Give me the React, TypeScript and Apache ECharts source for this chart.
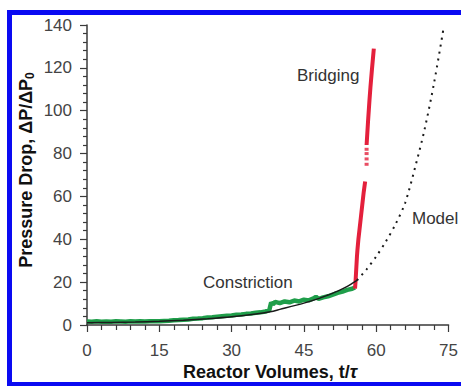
import React, { useEffect, useRef } from "react";
import * as echarts from "echarts";

// Tick labels / axis ranges
const X_TICKS = [0, 15, 30, 45, 60, 75];
const Y_TICKS = [0, 20, 40, 60, 80, 100, 120, 140];

// Model curve (solid part, fitted over the measured range)
const MODEL_X = [0, 5, 10, 15, 20, 25, 30, 35, 38, 40, 45, 48, 50, 52, 54, 55, 56];
const MODEL_Y = [1.0, 1.2, 1.4, 1.7, 2.2, 2.9, 3.8, 5.1, 6.2, 7.3, 10.2, 12.3, 14.0, 15.8, 18.0, 19.4, 20.8];

// Model extrapolation (dotted)
const MODEL_EXT_X = [56, 58, 60, 62, 64, 66, 68, 70, 72, 74];
const MODEL_EXT_Y = [20.8, 26, 32, 39, 47, 57, 73, 91, 113, 139];

// Measured pressure drop during constriction (green)
const CONSTR_X = [
  0, 1, 2, 3, 4, 5, 6, 7, 8, 9, 10, 11, 12, 13, 14, 15, 16, 17, 18, 19, 20,
  21, 22, 23, 24, 25, 26, 27, 28, 29, 30, 31, 32, 33, 34, 35, 36, 37, 37.8,
  38.2, 38.6, 39, 40, 41, 42, 43, 44, 45, 46, 47, 47.5, 48, 49, 50, 51, 52,
  53, 54, 55, 55.6,
];
const CONSTR_Y = [
  1.6, 1.5, 1.7, 1.5, 1.6, 1.5, 1.7, 1.6, 1.5, 1.7, 1.6, 1.7, 1.6, 1.8, 1.7,
  1.8, 1.9, 2.0, 2.2, 2.3, 2.5, 2.6, 2.9, 3.0, 3.2, 3.5, 3.6, 3.9, 4.1, 4.3,
  4.4, 4.8, 4.9, 5.2, 5.4, 5.7, 5.9, 6.3, 6.8, 10.5, 9.6, 10.8, 10.2, 11.0,
  10.6, 11.4, 11.0, 11.8, 11.5, 12.4, 13.2, 12.2, 12.9, 13.4, 14.2, 15.0,
  15.6, 16.4, 16.9, 17.5,
];

// Measured pressure drop during bridging (red); null marks the gap in the record
const BRIDGE_X = [55.6, 55.7, 55.8, 55.9, 56.0, 56.1, 56.3, 56.5, 56.8, 57.1, 57.4, 57.7, 57.9, 58.0, 58.3, 58.6, 58.8, 59.1, 59.5];
const BRIDGE_Y = [17, 20, 24, 28, 32, 35, 40, 44, 50, 56, 62, 67, null, 84, 95, 105, 111, 119, 129];

// Sparse samples inside the gap
const BRIDGE_DOT_X = [58.0, 58.0, 58.0, 58.0];
const BRIDGE_DOT_Y = [75, 77.5, 80, 82];

const zip = (xs: number[], ys: (number | null)[]) =>
  xs.map((x, i) => [x, ys[i]]);

const FONT = "'Liberation Sans', Arial, Helvetica, sans-serif";
const AXIS_COLOR = "#3a3a3a";
const LABEL_COLOR = "#444";

export default function App() {
  const ref = useRef<HTMLDivElement>(null);

  useEffect(() => {
    if (!ref.current) return;
    const chart = echarts.init(ref.current, undefined, { renderer: "svg" });

    chart.setOption({
      animation: false,
      backgroundColor: "#ffffff",
      grid: { left: 87, right: 9, top: 25, bottom: 61, containLabel: false },
      xAxis: {
        type: "value",
        min: X_TICKS[0],
        max: X_TICKS[X_TICKS.length - 1],
        interval: X_TICKS[1] - X_TICKS[0],
        axisLine: { show: true, lineStyle: { color: AXIS_COLOR, width: 1.5 } },
        axisTick: { show: true, length: 7, lineStyle: { color: AXIS_COLOR, width: 1.2 } },
        minorTick: { show: true, splitNumber: 5, length: 5, lineStyle: { color: AXIS_COLOR, width: 1.2 } },
        splitLine: { show: false },
        minorSplitLine: { show: false },
        axisLabel: { color: LABEL_COLOR, fontSize: 17, fontFamily: FONT, margin: 17 },
      },
      yAxis: {
        type: "value",
        min: Y_TICKS[0],
        max: Y_TICKS[Y_TICKS.length - 1],
        interval: Y_TICKS[1] - Y_TICKS[0],
        axisLine: { show: true, lineStyle: { color: AXIS_COLOR, width: 1.5 } },
        axisTick: { show: true, length: 7, lineStyle: { color: AXIS_COLOR, width: 1.2 } },
        minorTick: { show: true, splitNumber: 5, length: 4, lineStyle: { color: AXIS_COLOR, width: 1.2 } },
        splitLine: { show: false },
        minorSplitLine: { show: false },
        axisLabel: { color: LABEL_COLOR, fontSize: 17, fontFamily: FONT, margin: 15 },
      },
      series: [
        {
          name: "Constriction",
          type: "line",
          data: zip(CONSTR_X, CONSTR_Y),
          showSymbol: false,
          lineStyle: { color: "#1f9e4a", width: 4.5 },
          z: 2,
        },
        {
          name: "Bridging",
          type: "line",
          data: zip(BRIDGE_X, BRIDGE_Y),
          connectNulls: false,
          showSymbol: false,
          lineStyle: { color: "#e4203c", width: 4 },
          z: 3,
        },
        {
          name: "Bridging gap",
          type: "scatter",
          data: zip(BRIDGE_DOT_X, BRIDGE_DOT_Y),
          symbol: "rect",
          symbolSize: [4, 3],
          itemStyle: { color: "#e4203c" },
          z: 3,
        },
        {
          name: "Model",
          type: "line",
          data: zip(MODEL_X, MODEL_Y),
          showSymbol: false,
          smooth: 0.3,
          lineStyle: { color: "#1a1a1a", width: 1.5 },
          z: 4,
        },
        {
          name: "Model extrapolation",
          type: "line",
          data: zip(MODEL_EXT_X, MODEL_EXT_Y),
          showSymbol: false,
          smooth: 0.3,
          lineStyle: { color: "#1a1a1a", width: 2, type: [2, 5] },
          z: 4,
        },
      ],
      graphic: [
        {
          type: "rect",
          shape: { x: 9.5, y: 12.5, width: 480, height: 372 },
          style: { fill: "none", stroke: "#0a0af2", lineWidth: 5 },
          silent: true,
          z: 100,
        },
        {
          type: "text",
          x: 26,
          y: 170,
          rotation: Math.PI / 2,
          style: {
            text: "Pressure Drop, ΔP/ΔP{sub|0}",
            font: `bold 18px ${FONT}`,
            fill: "#111",
            align: "center",
            verticalAlign: "middle",
            rich: {
              sub: { font: `bold 12px ${FONT}`, fill: "#111", padding: [8, 0, 0, 0] },
            },
          },
        },
        {
          type: "text",
          x: 270,
          y: 372,
          style: {
            text: "Reactor Volumes, t/{tau|τ}",
            font: `bold 18px ${FONT}`,
            fill: "#111",
            align: "center",
            verticalAlign: "middle",
            rich: {
              tau: { font: `italic bold 18px ${FONT}`, fill: "#111" },
            },
          },
        },
        {
          type: "text",
          x: 297,
          y: 75,
          style: { text: "Bridging", font: `17px ${FONT}`, fill: "#333", align: "left", verticalAlign: "middle" },
        },
        {
          type: "text",
          x: 203,
          y: 282,
          style: { text: "Constriction", font: `17px ${FONT}`, fill: "#333", align: "left", verticalAlign: "middle" },
        },
        {
          type: "text",
          x: 412,
          y: 218,
          style: { text: "Model", font: `17px ${FONT}`, fill: "#333", align: "left", verticalAlign: "middle" },
        },
      ],
    });

    return () => chart.dispose();
  }, []);

  return (
    <div
      ref={ref}
      style={{ position: "fixed", left: 0, top: 0, width: 461, height: 386, background: "#fff" }}
    />
  );
}
